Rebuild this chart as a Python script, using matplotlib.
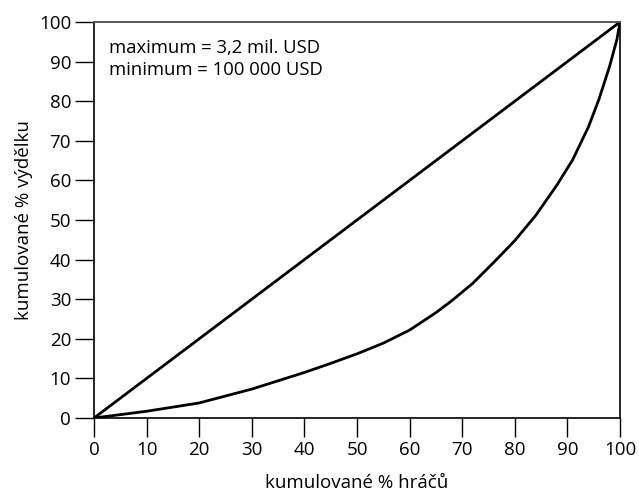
import matplotlib
matplotlib.use("Agg")
import matplotlib.pyplot as plt

# Data
players_pct = [0, 10, 20, 30, 40, 45, 50, 55, 60, 65, 68, 72, 76, 80, 84, 88, 91, 94, 96, 98, 99.4, 100]
earnings_pct = [0, 1.7, 3.8, 7.3, 11.5, 13.8, 16.2, 18.9, 22.2, 26.6, 29.6, 34.0, 39.3, 44.8, 51.2, 58.8,
                65.2, 73.5, 80.5, 88.7, 95.5, 100]
equality_x = [0, 100]
equality_y = [0, 100]
x_ticks = list(range(0, 101, 10))
y_ticks = list(range(0, 101, 10))
note_lines = ["maximum = 3,2 mil. USD", "minimum = 100 000 USD"]

plt.rcParams['font.family'] = ['Open Sans', 'DejaVu Sans']

fig = plt.figure(figsize=(6.39, 4.91), dpi=100)
ax = fig.add_axes([94/639, 1 - 418/491, (620-94)/639, (418-22)/491])

ax.plot(equality_x, equality_y, color='black', lw=2.0, solid_capstyle='round')
ax.plot(players_pct, earnings_pct, color='black', lw=2.0, solid_joinstyle='round')

ax.set_xlim(0, 100)
ax.set_ylim(0, 100)
ax.set_xticks(x_ticks)
ax.set_yticks(y_ticks)
ax.tick_params(direction='out', length=13.5, width=1.0, labelsize=13.5, pad=3, color='black')
for s in ['left', 'right', 'bottom']:
    ax.spines[s].set_linewidth(1.2)
    ax.spines[s].set_color('black')
ax.spines['top'].set_linewidth(1.4)
ax.spines['top'].set_color('#555555')

ax.set_xlabel("kumulované % hráčů", fontsize=13.5, labelpad=11)
ax.set_ylabel("kumulované % výdělku", fontsize=13.5, labelpad=4)

ax.text(0.028, 0.958, "\n".join(note_lines), transform=ax.transAxes, fontsize=13.3,
        va='top', ha='left', linespacing=1.3)

fig.savefig("out.png", dpi=100)
